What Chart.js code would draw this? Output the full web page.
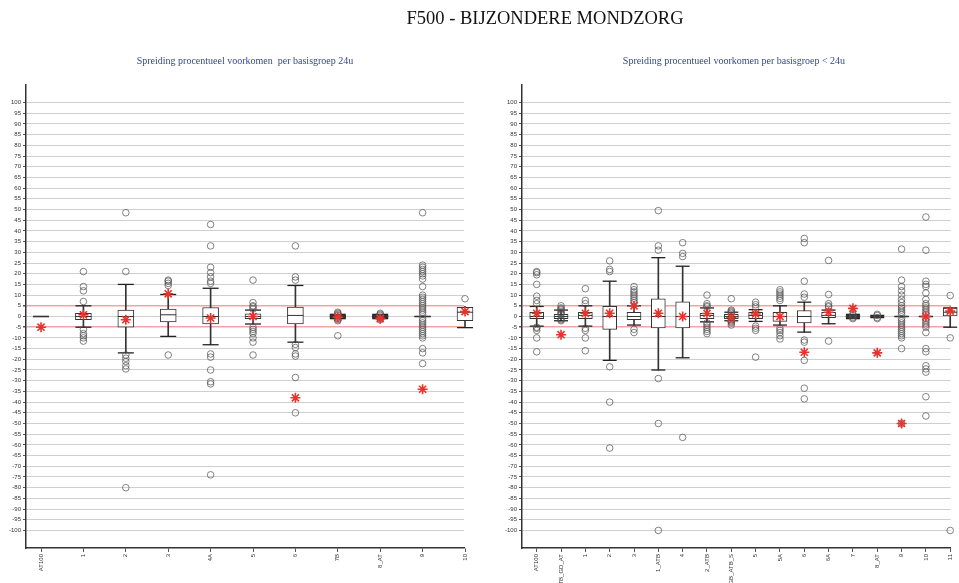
<!DOCTYPE html>
<html>
<head>
<meta charset="utf-8">
<script src="https://cdn.jsdelivr.net/npm/chart.js@4.4.1/dist/chart.umd.min.js"></script>
<style>
  html, body { margin: 0; padding: 0; background: #fff; }
  #wrap { position: relative; width: 959px; height: 583px; overflow: hidden; background: #fff; }
  canvas { position: absolute; top: 0; }
  .title { position: absolute; top: 8px; left: 545px; transform: translateX(-50%); white-space: nowrap;
           font-family: "Liberation Serif", "DejaVu Serif", serif; font-size: 18.5px; color: #111; }
  .sub { position: absolute; top: 55px; transform: translateX(-50%); white-space: nowrap;
         font-family: "Liberation Serif", "DejaVu Serif", serif; font-size: 10px; color: #34488f; }
</style>
</head>
<body>
<div id="wrap">
  <canvas id="left" width="480" height="583" style="left:0;width:480px;height:583px"></canvas>
  <canvas id="right" width="479" height="583" style="left:480px;width:479px;height:583px"></canvas>
  <div class="title">F500 - BIJZONDERE MONDZORG</div>
  <div class="sub" style="left:245px">Spreiding procentueel voorkomen&nbsp; per basisgroep 24u</div>
  <div class="sub" style="left:734px">Spreiding procentueel voorkomen per basisgroep &lt; 24u</div>
</div>
<script>
// ---------- DATA: left panel (basisgroep 24u) ----------
const leftCategories = ["AT100","1","2","3","4A","5","6","7B","8_AT","9","10"];
const leftQ1      = [0, -1.5, -5, -2.5, -3.5, -1, -3.5, -0.5, -0.5, 0, -2];
const leftMedian  = [0, 0, 0, 0.8, 0, 0, 0.5, 0, 0, 0, 2];
const leftQ3      = [0, 1.5, 3, 3.5, 4.2, 1.3, 4.4, 0.5, 0.5, 0, 4.3];
const leftWhiskLo = [0, -5, -17, -9.3, -13.2, -3.5, -12, -1, -1, 0, -5.2];
const leftWhiskHi = [0, 5, 15, 10.3, 13.2, 3, 14.5, 1, 1, 0, 4.8];
const leftMean    = [-5, 0.8, -1.5, 10.6, -0.7, 0, -38, -0.3, -1, -34, 2.3];
const leftOutliers = [
  [],
  [7, 12, 14, 21, -6, -8, -9, -10, -11.5],
  [21, 48.5, -18, -19.5, -21, -23, -24.5, -80],
  [14.5, 15.5, 16.5, 17, -18],
  [15.5, 16.5, 18.5, 20.5, 23, 33, 43, -17.5, -19, -25, -30.5, -31.5, -74],
  [3.5, 4.5, 5, 6.5, 17, -5, -6, -7, -8, -10, -12, -18],
  [17, 18.5, 33, -13, -14.5, -17.5, -18.5, -28.5, -45],
  [2, 1.5, 1, 0.5, -0.5, -1, -1.5, -2, -9],
  [1.5, 1, 0.5, -0.5, -1, -1.5],
  [48.5, 24, 23, 22, 21, 20, 19, 17.5, 14, 10, 9, 8, 7, 6, 5, 4, 3, 2, 1, -1, -2, -3, -4, -5, -6, -7, -8, -9, -10, -15, -17, -22],
  [8.3, -20]
];

// ---------- DATA: right panel (basisgroep < 24u) ----------
const rightCategories = ["AT100","ATB_GD_AT","1","2","3","1_ATB","4","2_ATB","GB_ATB_S","5","5A","6","6A","7","8_AT","9","10","11"];
const rightQ1      = [-1, -1, -1, -6, -1.5, -5.3, -5.3, -1, -1, -1, -2.3, -3, -0.5, -0.5, 0, 0, 0, 0];
const rightMedian  = [0, 0, 0.5, 0, 0, 0, 0, 0.5, 0, 0.5, 0, 0, 0.5, 0, 0, 0, 0, 2];
const rightQ3      = [2, 1, 2, 4.7, 2, 8.3, 6.8, 1.5, 1, 2, 2, 2.8, 2, 0.5, 0, 0, 0, 4];
const rightWhiskLo = [-4.5, -2, -4.5, -20.5, -4, -25, -19.3, -2.5, -2, -2.3, -4, -7.3, -3.4, -1, -0.5, 0, 0, -5];
const rightWhiskHi = [4.7, 3, 5, 16.5, 5, 27.5, 23.5, 4, 2, 3.2, 5, 6.7, 3, 1, 0.5, 0, 0, 4];
const rightMean    = [1.5, -8.5, 1.5, 1.5, 5, 1.5, 0, 1.4, -0.5, 1.2, 0, -16.7, 2, 3.8, -17, -50, 0, 2.5];
const rightOutliers = [
  [6, 7.5, 9.5, 15, 19.5, 20.5, 21, -5, -5.5, -6.5, -10, -16.5],
  [5, 4, 3.5, 3, 2, 1.5, 1, -1, -1.5, -2],
  [6, 7.5, 13, -5.5, -6.5, -10, -16],
  [21, 22, 26, -23.5, -40, -61.5],
  [6.5, 7.5, 8.5, 9.5, 10.5, 11.5, 12.5, 14, -6, -7.5],
  [31, 33, 49.5, -29, -50, -100],
  [28, 29.5, 34.5, -56.5],
  [4.5, 5, 6, 10, -3, -4, -5, -6, -7, -8],
  [8.3, 3, 2.5, 2, 1.5, -1.5, -2, -2.5, -3, -4],
  [4.5, 5.5, 6.7, -4.5, -5.5, -6.5, -19],
  [7.5, 8.5, 9.5, 10.5, 11.5, 12.5, -5.5, -6.5, -7.5, -9, -10.5],
  [9, 10.5, 16.5, 34.5, 36.5, -11, -12, -20.5, -33.5, -38.5],
  [4.5, 5, 6, 10.3, 26.2, -11.5],
  [1, 0.5, -0.5, -1],
  [1, 0.5, -0.5, -1],
  [31.5, 17, 14, 12, 10, 8, 6.5, 5, 4, 3, 2, 1, -1, -2, -3, -4, -5, -6, -7, -8, -9, -10, -15, -50],
  [46.5, 31, 16.5, 15, 14, 11, 8, 6, 5, 4, 3, 2, 1, -1, -2, -3, -4, -5, -7.5, -15, -16.5, -23, -24.5, -26, -37.5, -46.5],
  [9.8, -10, -100]
];

const yTicks = [];
for (let v = 100; v >= -100; v -= 5) yTicks.push(v);
const refLines = [5, -5];

function makeBoxChart(id, cats, q1, med, q3, wlo, whi, mean, outl, cfg) {
  const stems = cats.map((_, i) => ({ x: i, y: [wlo[i], whi[i]] }));
  const boxes = cats.map((_, i) => ({ x: i, y: [q1[i], q3[i]] }));
  const caps = [];
  cats.forEach((_, i) => { caps.push({ x: i, y: wlo[i] }); caps.push({ x: i, y: whi[i] }); });
  const medians = cats.map((_, i) => ({ x: i, y: med[i] }));
  const outs = [];
  outl.forEach((arr, i) => arr.forEach(v => outs.push({ x: i, y: v })));
  const means = cats.map((_, i) => ({ x: i, y: mean[i] }));
  const half = cfg.boxW / 2;

  return new Chart(document.getElementById(id), {
    type: 'scatter',
    data: {
      datasets: [
        { type: 'bar', data: stems, backgroundColor: '#333', barThickness: 1, grouped: false, order: 6, clip: false },
        { type: 'bar', data: boxes, backgroundColor: '#fff', borderColor: '#333', borderWidth: 1, borderSkipped: false,
          barThickness: cfg.boxW, grouped: false, order: 5, clip: false },
        { type: 'scatter', data: caps, pointStyle: 'line', pointRadius: half, borderColor: '#222', borderWidth: 1.3, order: 4, clip: false },
        { type: 'scatter', data: medians, pointStyle: 'line', pointRadius: half, borderColor: '#333', borderWidth: 1, order: 3, clip: false },
        { type: 'scatter', data: outs, pointStyle: 'circle', pointRadius: 3.3, backgroundColor: 'rgba(255,255,255,0)',
          borderColor: 'rgba(80,80,80,0.7)', borderWidth: 1, order: 2, clip: false },
        { type: 'scatter', data: means, pointStyle: 'star', pointRadius: 5, borderColor: '#e8322c', backgroundColor: '#e8322c',
          borderWidth: 1.6, order: 1, clip: false }
      ]
    },
    options: {
      responsive: false,
      animation: false,
      events: [],
      layout: { padding: { left: cfg.padLeft, right: cfg.padRight, top: 85, bottom: 0 } },
      plugins: { legend: { display: false }, tooltip: { enabled: false }, title: { display: false } },
      scales: {
        x: {
          type: 'linear', min: cfg.xmin, max: cfg.xmax, offset: false,
          afterBuildTicks: s => { s.ticks = cats.map((_, i) => ({ value: i })); },
          afterFit: s => { s.height = 35; s.paddingLeft = 0; s.paddingRight = 0; },
          ticks: { autoSkip: false, minRotation: 90, maxRotation: 90, padding: 2,
                   font: { size: 6, family: 'Liberation Sans' }, color: '#333',
                   callback: (v, i) => cats[i] },
          grid: { drawOnChartArea: false, offset: false, tickLength: 4, tickColor: '#555' },
          border: { color: '#333', width: 1.5 }
        },
        y: {
          min: -108.2, max: 108.2,
          afterBuildTicks: s => { s.ticks = yTicks.map(v => ({ value: v })); },
          afterFit: s => { s.width = cfg.yW; s.paddingTop = 0; s.paddingBottom = 0; },
          ticks: { font: { size: 6, family: 'Liberation Sans' }, color: '#333', padding: 2 },
          grid: {
            color: c => (c.tick && refLines.includes(c.tick.value)) ? '#f4a3a3' : '#cfcfcf',
            lineWidth: c => (c.tick && refLines.includes(c.tick.value)) ? 1.5 : 1,
            tickLength: 3, tickColor: '#555'
          },
          border: { color: '#333', width: 1.5 }
        }
      }
    }
  });
}

makeBoxChart('left', leftCategories, leftQ1, leftMedian, leftQ3, leftWhiskLo, leftWhiskHi, leftMean, leftOutliers,
  { boxW: 16, xmin: -0.354, xmax: 9.976, yW: 26, padLeft: 0, padRight: 16 });
makeBoxChart('right', rightCategories, rightQ1, rightMedian, rightQ3, rightWhiskLo, rightWhiskHi, rightMean, rightOutliers,
  { boxW: 14, xmin: -0.605, xmax: 17.02, yW: 42, padLeft: 0, padRight: 0 });
</script>
</body>
</html>
